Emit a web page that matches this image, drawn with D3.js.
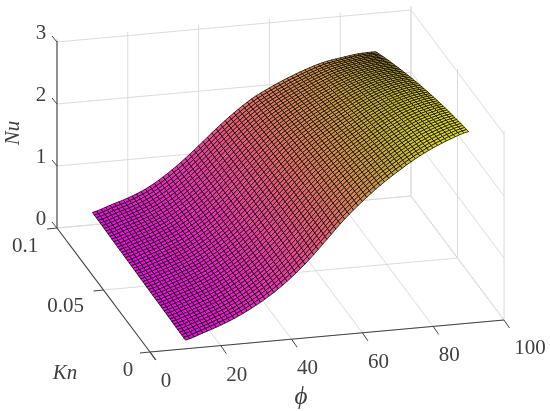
<!DOCTYPE html>
<html><head><meta charset="utf-8">
<script src="https://cdn.jsdelivr.net/npm/d3@7/dist/d3.min.js"></script>
<style>html,body{margin:0;background:#fff}svg{display:block;filter:blur(0.4px)}text{font-family:"Liberation Serif","Times New Roman",serif;fill:#3f3f3f}</style>
</head><body><svg id="c" width="550" height="411"></svg>
<script>
// Values
const phiSamples=[10,15,20,25,30,35,40,45,50,55,60,65,70,75,80,85,90];
const knSamples=[0,0.05,0.1];
const nuAtKn0=[0.14,0.23,0.33,0.45,0.60,0.78,1.00,1.26,1.56,1.86,2.12,2.35,2.55,2.73,2.88,3.00,3.09];
const nuAtKn05=[0.17,0.26,0.36,0.48,0.64,0.84,1.08,1.35,1.62,1.87,2.08,2.26,2.42,2.57,2.69,2.77,2.81];
const nuAtKn1=[0.20,0.29,0.38,0.50,0.67,0.88,1.12,1.37,1.60,1.80,1.95,2.08,2.19,2.28,2.33,2.37,2.38];
const phiTicks=[0,20,40,60,80,100];
const knTicks=[0,0.05,0.1];
const knTickLabels=["0","0.05","0.1"];
const nuTicks=[0,1,2,3];
const colorNu=[0,1.5,2.6,3.09];
const colorStops=["#f000f0","#e85a78","#c8af32","#e6e614"];
// Drawn mesh density of the surface (the table above is sampled onto it)
const phiCells=64, knCells=48;

const svg=d3.select("#c");
const sPhi=d3.scaleLinear([0,100],[0,354]), sPhiY=d3.scaleLinear([0,100],[0,-32]);
const sKn=d3.scaleLinear([0,0.1],[0,-93]), sKnY=d3.scaleLinear([0,0.1],[0,-124]);
const sNu=d3.scaleLinear([0,3],[0,-186]);
const P=(phi,kn,nu)=>[150+sPhi(phi)+sKn(kn),352+sPhiY(phi)+sKnY(kn)+sNu(nu)];
const line=d3.line();
const seg=(a,b,stroke,w=1)=>svg.append("path").attr("d",line([a,b])).attr("fill","none").attr("stroke",stroke).attr("stroke-width",w);

// grid
const G="#dcdcdc";
phiTicks.forEach(p=>{seg(P(p,0,0),P(p,0.1,0),G); seg(P(p,0.1,0),[P(p,0.1,3)[0],P(p,0.1,3)[1]-4],G);});
knTicks.forEach(k=>{seg(P(0,k,0),P(100,k,0),G); seg(P(100,k,0),[P(100,k,3)[0],P(100,k,3)[1]-3],G);});
nuTicks.forEach(n=>{seg(P(0,0.1,n),P(100,0.1,n),G); seg(P(100,0.1,n),P(100,0,n),G);});

// surface
const rows=[nuAtKn0,nuAtKn05,nuAtKn1];
const colAt=(r,phi)=>{const t=(phi-phiSamples[0])/(phiSamples[phiSamples.length-1]-phiSamples[0]);
  const n=r.length-1,i=Math.min(n-1,Math.floor(t*n)),u=t*n-i;
  const a=r[Math.max(0,i-1)],b=r[i],c=r[i+1],d=r[Math.min(n,i+2)];
  return b+0.5*u*(c-a+u*(2*a-5*b+4*c-d+u*(3*(b-c)+d-a)));};
const nuAt=(phi,kn)=>{const a=colAt(rows[0],phi),b=colAt(rows[1],phi),c=colAt(rows[2],phi),s=kn/0.1;
  return a*(1-s)*(1-2*s)+4*b*s*(1-s)+c*s*(2*s-1);};
const phiMesh=d3.range(phiCells+1).map(i=>10+80*i/phiCells);
const knMesh=d3.range(knCells+1).map(i=>0.1*i/knCells);
const color=d3.scaleLinear(colorNu,colorStops).clamp(true);
const mesh=svg.append("g").attr("stroke","#000").attr("stroke-width",0.75).attr("stroke-linejoin","round");
for(let j=knCells-1;j>=0;j--)for(let i=0;i<phiCells;i++){
  const q=[[i,j],[i+1,j],[i+1,j+1],[i,j+1]].map(([a,b])=>[phiMesh[a],knMesh[b]]);
  const vals=q.map(([p,k])=>nuAt(p,k));
  mesh.append("path").attr("d",line(q.map(([p,k],m)=>P(p,k,vals[m])))+"Z").attr("fill",color(d3.mean(vals)));
}

// axes
const A="#444";
seg([57,P(0,0.1,3)[1]-1],P(0,0.1,0),A,1.1);
seg(P(0,0.1,0),[P(0,0,0)[0]+6,P(0,0,0)[1]+8],A,1.1);
seg(P(0,0,0),P(100,0,0),A,1.1);
nuTicks.forEach(n=>{const p=P(0,0.1,n);seg(p,[p[0]-5,p[1]-6],A);});
knTicks.forEach(k=>{const p=P(0,k,0);seg(p,[p[0]-10,p[1]+1],A);});
phiTicks.forEach(v=>{const p=P(v,0,0);seg(p,[p[0]+5.5,p[1]+8],A);});

const txt=(x,y,s,o={})=>svg.append("text").attr("x",x).attr("y",y).attr("text-anchor","middle").attr("dominant-baseline","central")
  .attr("font-size",o.size||21).attr("font-style",o.italic?"italic":null).attr("transform",o.rot?`rotate(${o.rot} ${x} ${y})`:null).text(s);
nuTicks.forEach(n=>{const p=P(0,0.1,n);txt(p[0]-16,p[1]-10,String(n));});
knTicks.forEach((k,i)=>{const p=P(0,k,0);const off=[[-22,17],[-38,15],[-32,17]][i];txt(p[0]+off[0],p[1]+off[1],knTickLabels[i]);});
phiTicks.forEach(v=>{const p=P(v,0,0);txt(p[0]+(v===100?26:16),p[1]+(v===100?27:28),String(v));});
txt(12,133,"Nu",{italic:true,rot:-90,size:21});
txt(65,372,"Kn",{italic:true,size:21});
txt(301,395,"ϕ",{italic:true,size:25});
</script></body></html>
